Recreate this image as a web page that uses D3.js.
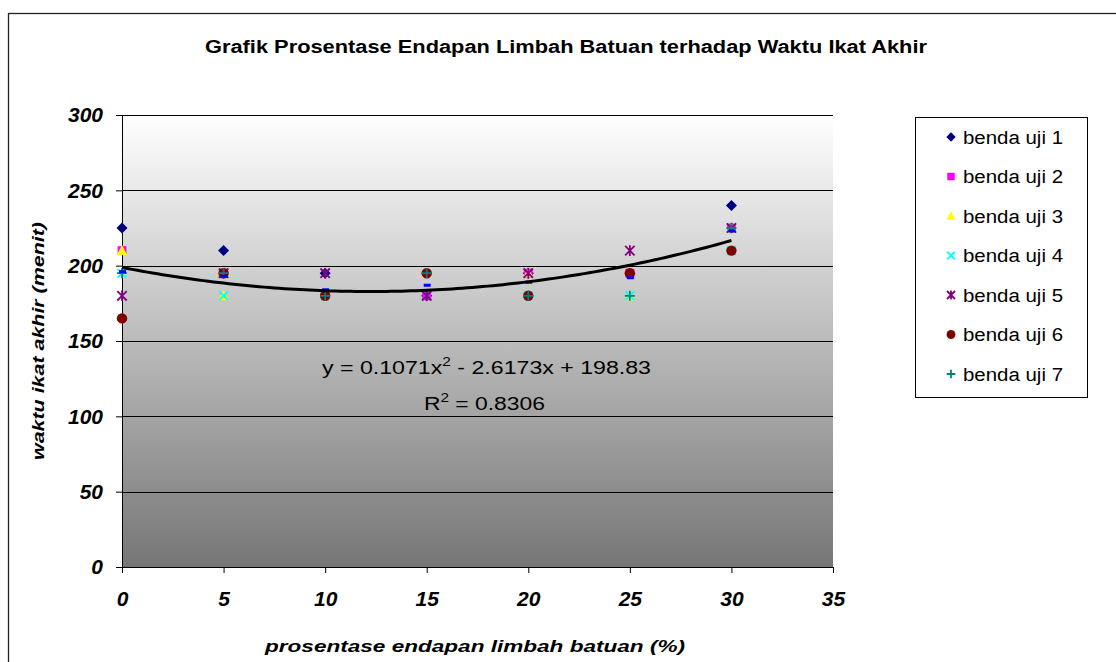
<!DOCTYPE html>
<html>
<head>
<meta charset="utf-8">
<script src="https://cdn.jsdelivr.net/npm/d3@7"></script>
<style>
  html, body { margin: 0; padding: 0; background: #fff; }
  svg { display: block; font-family: "Liberation Sans", Arial, sans-serif; }
</style>
</head>
<body>
<svg id="chart" width="1116" height="662"></svg>
<script>
// ---------------- data ----------------
const xValues = [0, 5, 10, 15, 20, 25, 30];
const bendaUji1 = [225, 210, 195, 180, 195, 195, 240];
const bendaUji2 = [210, 195, 180, 180, 195, 195, 225];
const bendaUji3 = [210, 180, 180, 195, 195, 180, 225];
const bendaUji4 = [195, 180, 180, 180, 180, 180, 210];
const bendaUji5 = [180, 195, 195, 180, 195, 210, 225];
const bendaUji6 = [165, 195, 180, 195, 180, 195, 210];
const bendaUji7 = [195, 195, 180, 195, 180, 180, 225];
const rataRata  = [196, 193, 184, 187, 189, 192, 223];
const seriesNames = ["benda uji 1", "benda uji 2", "benda uji 3", "benda uji 4", "benda uji 5", "benda uji 6", "benda uji 7"];
const yTicks = [0, 50, 100, 150, 200, 250, 300];
const xTicks = [0, 5, 10, 15, 20, 25, 30, 35];
const trendCoef = [198.83, -2.6173, 0.1071]; // c0 + c1 x + c2 x^2
const trendLabel = "y = 0.1071x";
const trendLabel2 = " - 2.6173x + 198.83";
const r2Label = "0.8306";
const titleText = "Grafik Prosentase Endapan Limbah Batuan terhadap Waktu Ikat Akhir";
const xTitle = "prosentase endapan limbah batuan (%)";
const yTitle = "waktu ikat akhir (menit)";

// ---------------- setup ----------------
const svg = d3.select("#chart");
const plot = { left: 122, right: 833, top: 115, bottom: 567 };
const x = d3.scaleLinear().domain([0, 35]).range([plot.left, plot.right]);
const y = d3.scaleLinear().domain([0, 300]).range([plot.bottom, plot.top]);

const defs = svg.append("defs");
const grad = defs.append("linearGradient").attr("id", "bg").attr("x1", 0).attr("y1", 0).attr("x2", 0).attr("y2", 1);
grad.append("stop").attr("offset", "0%").attr("stop-color", "#ffffff");
grad.append("stop").attr("offset", "100%").attr("stop-color", "#767676");

// chart area
svg.append("rect").attr("x", 8.5).attr("y", 13.5).attr("width", 1200).attr("height", 800)
  .attr("fill", "#fff").attr("stroke", "#222").attr("stroke-width", 1.3);

// plot area
svg.append("rect").attr("x", plot.left).attr("y", plot.top)
  .attr("width", plot.right - plot.left).attr("height", plot.bottom - plot.top)
  .attr("fill", "url(#bg)");

// gridlines
svg.append("g").selectAll("line").data(yTicks.filter(d => d > 0)).join("line")
  .attr("x1", plot.left).attr("x2", plot.right)
  .attr("y1", d => Math.round(y(d)) + 0.5).attr("y2", d => Math.round(y(d)) + 0.5)
  .attr("stroke", "#000").attr("stroke-width", 1);

// axes
const yAxis = svg.append("g").attr("transform", `translate(${plot.left},0)`)
  .call(d3.axisLeft(y).tickValues(yTicks).tickSize(6).tickPadding(13).tickSizeOuter(0));
const xAxis = svg.append("g").attr("transform", `translate(0,${plot.bottom})`)
  .call(d3.axisBottom(x).tickValues(xTicks).tickSize(6).tickPadding(18).tickSizeOuter(0));
[yAxis, xAxis].forEach(a => {
  a.select(".domain").attr("stroke", "#000");
  a.selectAll(".tick line").attr("stroke", "#000");
  a.selectAll(".tick text").attr("fill", "#000").attr("font-size", 21)
    .attr("font-weight", "bold").attr("font-style", "italic")
    .attr("font-family", "Liberation Sans, Arial, sans-serif");
});

// markers
const markerSpecs = [
  { draw: (g, s) => g.append("path").attr("d", `M0,${-5.5*s}L${5.5*s},0L0,${5.5*s}L${-5.5*s},0Z`).attr("fill", "#000080") },
  { draw: (g, s) => g.append("rect").attr("x", -4.4*s).attr("y", -4.4*s).attr("width", 8.8*s).attr("height", 8.8*s).attr("fill", "#ff00ff") },
  { draw: (g, s) => g.append("path").attr("d", `M0,${-5.5*s}L${5.2*s},${4.4*s}L${-5.2*s},${4.4*s}Z`).attr("fill", "#ffff00") },
  { draw: (g, s) => g.append("path").attr("d", `M${-4.4*s},${-4.4*s}L${4.4*s},${4.4*s}M${4.4*s},${-4.4*s}L${-4.4*s},${4.4*s}`).attr("stroke", "#00ffff").attr("stroke-width", 1.8).attr("fill", "none") },
  { draw: (g, s) => g.append("path").attr("d", `M${-4.7*s},${-4.7*s}L${4.7*s},${4.7*s}M${4.7*s},${-4.7*s}L${-4.7*s},${4.7*s}M0,${-5.3*s}L0,${5.3*s}`).attr("stroke", "#800080").attr("stroke-width", 1.8).attr("fill", "none") },
  { draw: (g, s) => g.append("circle").attr("r", 5.2*s).attr("fill", "#800000") },
  { draw: (g, s) => g.append("path").attr("d", `M${-5*s},0L${5*s},0M0,${-5*s}L0,${5*s}`).attr("stroke", "#008080").attr("stroke-width", 1.8).attr("fill", "none") }
];
const allSeries = [bendaUji1, bendaUji2, bendaUji3, bendaUji4, bendaUji5, bendaUji6, bendaUji7];

const pts = svg.append("g");
allSeries.forEach((vals, si) => {
  vals.forEach((v, i) => {
    const g = pts.append("g").attr("transform", `translate(${x(xValues[i])},${y(v)})`);
    markerSpecs[si].draw(g, 1);
  });
});
// average dash series (no legend entry)
pts.selectAll("rect.avg").data(rataRata).join("rect").attr("class", "avg")
  .attr("x", (d, i) => x(xValues[i]) - 3).attr("y", d => y(d) - 1.5)
  .attr("width", 7).attr("height", 3).attr("fill", "#0000ff");

// polynomial trendline
const trendX = d3.range(0, 30.01, 0.25);
const trendLine = d3.line().x(d => x(d)).y(d => y(trendCoef[0] + trendCoef[1]*d + trendCoef[2]*d*d));
svg.append("path").datum(trendX).attr("d", trendLine)
  .attr("fill", "none").attr("stroke", "#000").attr("stroke-width", 3);

// equation label
const eq = svg.append("text").attr("x", 322).attr("y", 374).attr("font-size", 18).attr("fill", "#000")
  .attr("textLength", 329).attr("lengthAdjust", "spacingAndGlyphs");
eq.append("tspan").text(trendLabel);
eq.append("tspan").attr("dy", -8).attr("font-size", 12).text("2");
eq.append("tspan").attr("dy", 8).text(trendLabel2);
const r2 = svg.append("text").attr("x", 424).attr("y", 410).attr("font-size", 18).attr("fill", "#000")
  .attr("textLength", 121).attr("lengthAdjust", "spacingAndGlyphs");
r2.append("tspan").text("R");
r2.append("tspan").attr("dy", -8).attr("font-size", 12).text("2");
r2.append("tspan").attr("dy", 8).text(" = " + r2Label);

// title
svg.append("text").attr("x", 205).attr("y", 53).attr("font-size", 18).attr("font-weight", "bold")
  .attr("textLength", 722).attr("lengthAdjust", "spacingAndGlyphs").text(titleText);

// axis titles
svg.append("text").attr("x", 265).attr("y", 652).attr("font-size", 17).attr("font-weight", "bold")
  .attr("font-style", "italic").attr("textLength", 420).attr("lengthAdjust", "spacingAndGlyphs").text(xTitle);
svg.append("text").attr("transform", "translate(44,460) rotate(-90)").attr("font-size", 16)
  .attr("font-weight", "bold").attr("font-style", "italic")
  .attr("textLength", 238).attr("lengthAdjust", "spacingAndGlyphs").text(yTitle);

// legend
const lg = svg.append("g");
lg.append("rect").attr("x", 915.5).attr("y", 117.5).attr("width", 172).attr("height", 280)
  .attr("fill", "#fff").attr("stroke", "#000").attr("stroke-width", 1);
seriesNames.forEach((name, i) => {
  const cy = 137 + i * 39.5;
  const g = lg.append("g").attr("transform", `translate(951,${cy})`);
  markerSpecs[i].draw(g, 0.85);
  lg.append("text").attr("x", 963).attr("y", cy + 6.5).attr("font-size", 18)
    .attr("textLength", 100).attr("lengthAdjust", "spacingAndGlyphs").text(name);
});
</script>
</body>
</html>
